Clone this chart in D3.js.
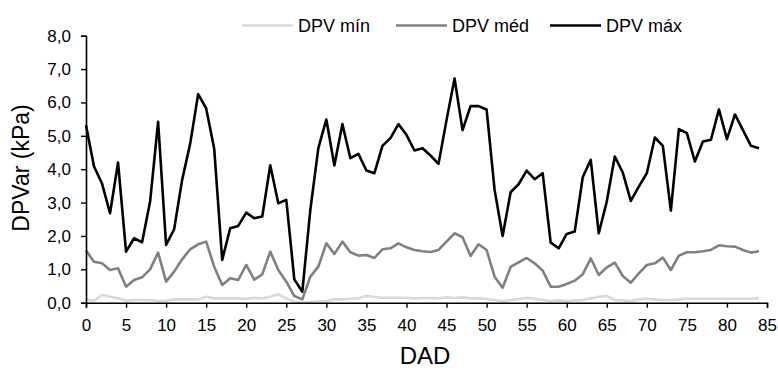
<!DOCTYPE html>
<html><head><meta charset="utf-8">
<script src="https://cdn.jsdelivr.net/npm/d3@7"></script>
<style>body{margin:0;background:#fff}svg{display:block;font-family:"Liberation Sans",Arial,sans-serif}</style>
</head><body>
<svg id="c" width="778" height="370"></svg>
<script>
const days = d3.range(0, 85);
const dpvMin = [0.10,0.06,0.23,0.18,0.13,0.06,0.08,0.08,0.08,0.05,0.06,0.10,0.10,0.10,0.10,0.18,0.13,0.13,0.13,0.13,0.11,0.15,0.13,0.18,0.25,0.13,0.03,0.00,
0.02,0.04,0.05,0.10,0.10,0.12,0.13,0.20,0.17,0.15,0.15,0.15,0.15,0.13,0.14,0.14,0.13,0.16,0.14,0.16,0.13,0.13,0.11,0.08,0.04,0.08,0.11,0.15,0.12,
0.08,0.05,0.07,0.05,0.07,0.08,0.13,0.18,0.20,0.08,0.07,0.05,0.10,0.12,0.10,0.08,0.08,0.10,0.12,0.12,0.12,0.12,0.12,0.12,0.12,0.12,0.12,0.13];
const dpvMed = [1.56,1.23,1.18,0.98,1.03,0.48,0.68,0.76,1.00,1.50,0.63,0.93,1.30,1.60,1.75,1.83,1.08,0.53,0.73,0.68,1.13,0.69,0.85,1.53,0.98,0.63,0.20,0.10,
0.78,1.08,1.78,1.46,1.83,1.51,1.41,1.43,1.34,1.60,1.63,1.78,1.66,1.58,1.54,1.52,1.58,1.83,2.08,1.96,1.40,1.75,1.58,0.78,0.45,1.07,1.21,1.34,1.18,
0.96,0.48,0.48,0.56,0.66,0.85,1.33,0.83,1.06,1.20,0.80,0.60,0.88,1.13,1.18,1.35,0.98,1.41,1.51,1.51,1.54,1.58,1.72,1.69,1.68,1.58,1.50,1.54];
const dpvMax = [5.32,4.08,3.57,2.68,4.20,1.53,1.93,1.81,3.03,5.42,1.73,2.20,3.68,4.76,6.25,5.82,4.62,1.28,2.23,2.30,2.70,2.53,2.58,4.12,2.98,3.08,0.70,0.33,
2.78,4.63,5.49,4.11,5.35,4.33,4.46,3.96,3.88,4.70,4.93,5.35,5.03,4.56,4.63,4.41,4.16,5.47,6.72,5.17,5.89,5.89,5.79,3.38,2.00,3.31,3.55,3.96,3.70,
3.88,1.80,1.63,2.06,2.13,3.76,4.28,2.08,3.03,4.38,3.90,3.05,3.48,3.88,4.95,4.70,2.76,5.20,5.08,4.23,4.83,4.88,5.79,4.90,5.64,5.17,4.70,4.63];
const xTicks = d3.range(0, 90, 5);
const yTicks = d3.range(0, 9, 1);
const seriesNames = ["DPV mín", "DPV méd", "DPV máx"];
const seriesColors = ["#d9d9d9", "#808080", "#000000"];

const svg = d3.select("#c");
const x = d3.scaleLinear().domain([0, 85]).range([86, 767]);
const y = d3.scaleLinear().domain([0, 8]).range([302.7, 35.7]);
const fmt = v => d3.format(".1f")(v).replace(".", ",");

const series = [dpvMin, dpvMed, dpvMax];
const line = d3.line().x((d, i) => x(days[i])).y(d => y(d));
series.forEach((s, k) => {
  svg.append("path").datum(s).attr("d", line).attr("fill", "none")
    .attr("stroke", seriesColors[k]).attr("stroke-width", 2.6).attr("stroke-linejoin", "round");
});

const gx = svg.append("g").attr("transform", `translate(0,${y(0)})`)
  .call(d3.axisBottom(x).tickValues(xTicks).tickSize(5).tickPadding(11).tickFormat(d3.format("d")));
const gy = svg.append("g").attr("transform", `translate(${x(0)},0)`)
  .call(d3.axisLeft(y).tickValues(yTicks).tickSize(5).tickPadding(10).tickFormat(fmt));
[gx, gy].forEach(g => {
  g.select(".domain").attr("stroke", "#000").attr("stroke-width", 1.6);
  g.selectAll(".tick line").attr("stroke", "#000").attr("stroke-width", 1.4);
  g.selectAll("text").attr("font-size", 17).attr("fill", "#000").attr("font-family", '"Liberation Sans",Arial,sans-serif');
});

svg.append("text").attr("x", 425).attr("y", 364).attr("text-anchor", "middle")
  .attr("font-size", 24).text("DAD");
svg.append("text").attr("transform", "translate(29,168) rotate(-90)").attr("text-anchor", "middle")
  .attr("font-size", 23).text("DPVar (kPa)");

const legX = [242, 396, 550];
seriesNames.forEach((n, k) => {
  svg.append("line").attr("x1", legX[k]).attr("x2", legX[k] + 51).attr("y1", 25.5).attr("y2", 25.5)
    .attr("stroke", seriesColors[k]).attr("stroke-width", 2.6);
  svg.append("text").attr("x", legX[k] + 56).attr("y", 32).attr("font-size", 18).text(n);
});
</script>
</body></html>
